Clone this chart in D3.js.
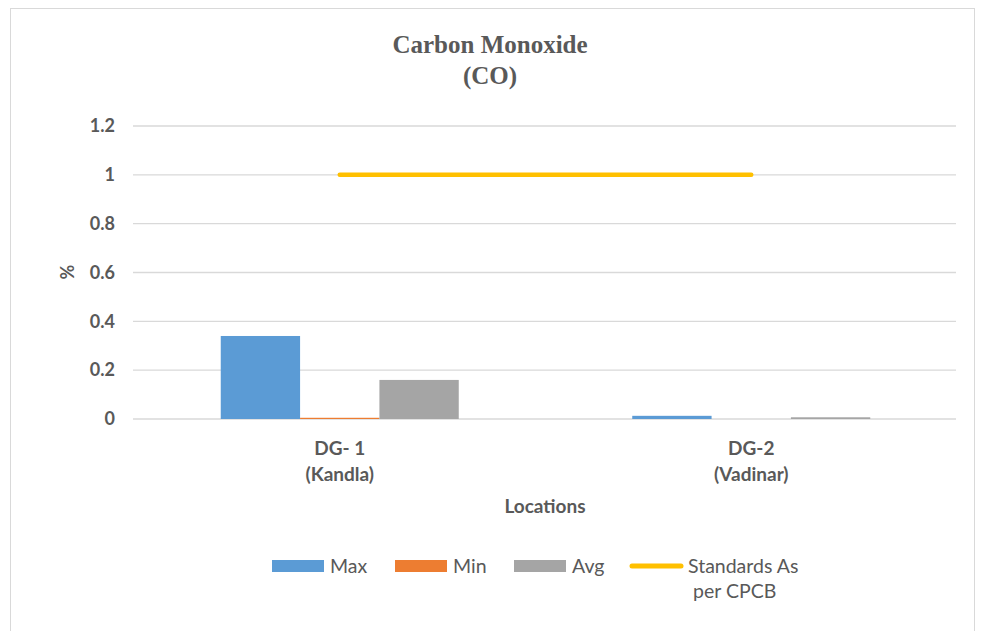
<!DOCTYPE html>
<meta charset="utf-8">
<head>
  <style>
    body { margin: 0; background: #fff; }
    text { fill: #595959; }
  </style>
  <script src="https://cdn.jsdelivr.net/npm/d3@7"></script>
</head>
<body>
<script>
  // data
  const locations = ["DG- 1|(Kandla)", "DG-2|(Vadinar)"];
  const seriesNames = ["Max", "Min", "Avg"];
  const maxVals = [0.34, 0.013];
  const minVals = [0.005, 0];
  const avgVals = [0.16, 0.007];
  const standard = [1, 1];
  const yTicks = [0, 0.2, 0.4, 0.6, 0.8, 1, 1.2];
  const colors = ["#5B9BD5", "#ED7D31", "#A5A5A5"];
  const lineColor = "#FFC000";

  const W = 991, H = 631;
  const svg = d3.create("svg:svg")
    .attr("width", W)
    .attr("height", H);
  d3.select("body").append(() => svg.node());

  // chart frame
  svg.append("rect")
    .attr("x", 10.5).attr("y", 8.5)
    .attr("width", 964).attr("height", 640)
    .attr("fill", "#fff").attr("stroke", "#d9d9d9");

  const pLeft = 134, pRight = 957, pTop = 126, pBottom = 419;
  const x = d3.scaleBand().domain(locations).range([pLeft, pRight]);
  const xs = d3.scaleBand().domain(seriesNames).range([0, 238]);
  const y = d3.scaleLinear().domain([0, 1.2]).range([pBottom, pTop]);

  // gridlines
  svg.append("g").selectAll("line").data(yTicks).join("line")
    .attr("x1", pLeft - 1).attr("x2", pRight - 1)
    .attr("y1", d => y(d)).attr("y2", d => y(d))
    .attr("stroke", "#d9d9d9").attr("stroke-width", 1.3);

  const font = "Lato, 'Open Sans', sans-serif";

  // y axis
  const yAxis = svg.append("g")
    .attr("transform", `translate(${pLeft},0)`)
    .call(d3.axisLeft(y).tickValues(yTicks).tickSize(0).tickPadding(19).tickFormat(d3.format("")));
  yAxis.select(".domain").remove();
  yAxis.selectAll("text")
    .style("font-family", font)
    .style("font-size", "18px").style("font-weight", "bold").attr("fill", "#595959");

  // bars
  const vals = [maxVals, minVals, avgVals];
  const g = svg.append("g");
  seriesNames.forEach((s, si) => {
    g.selectAll(".b" + si).data(locations).join("rect")
      .attr("class", "b" + si)
      .attr("x", d => x(d) + x.bandwidth() / 2 - 119 + xs(s))
      .attr("width", xs.bandwidth())
      .attr("y", (d, i) => y(vals[si][i]))
      .attr("height", (d, i) => y(0) - y(vals[si][i]))
      .attr("fill", colors[si]);
  });

  // standard line
  const line = d3.line()
    .x((d, i) => x(locations[i]) + x.bandwidth() / 2)
    .y(d => y(d));
  svg.append("path")
    .attr("d", line(standard))
    .attr("fill", "none")
    .attr("stroke", lineColor)
    .attr("stroke-width", 4.5)
    .attr("stroke-linecap", "round");

  // x axis labels
  const xl = svg.append("g").selectAll("text").data(locations).join("text")
    .attr("text-anchor", "middle")
    .style("font-family", font)
    .style("font-size", "19px").style("font-weight", "bold");
  xl.each(function(d) {
    const parts = d.split("|");
    const cx = x(d) + x.bandwidth() / 2;
    d3.select(this).selectAll("tspan").data(parts).join("tspan")
      .attr("x", cx)
      .attr("y", (p, i) => 455 + i * 26)
      .text(p => p);
  });

  // titles
  svg.append("text")
    .attr("x", 490).attr("y", 53)
    .attr("text-anchor", "middle")
    .style("font-family", "'Liberation Serif', 'DejaVu Serif', serif")
    .style("font-size", "25px").style("font-weight", "bold")
    .selectAll("tspan").data(["Carbon Monoxide", "(CO)"]).join("tspan")
      .attr("x", 490).attr("dy", (d, i) => i ? 31 : 0)
      .text(d => d);

  svg.append("text")
    .attr("x", 545).attr("y", 513)
    .attr("text-anchor", "middle")
    .style("font-family", font)
    .style("font-size", "19px").style("font-weight", "bold")
    .text("Locations");

  svg.append("text")
    .attr("transform", "translate(74,272) rotate(-90)")
    .attr("text-anchor", "middle")
    .style("font-family", font)
    .style("font-size", "18px").style("font-weight", "bold")
    .text("%");

  // legend
  const legX = [272, 395, 514];
  seriesNames.forEach((s, i) => {
    svg.append("rect")
      .attr("x", legX[i]).attr("y", 560)
      .attr("width", 52).attr("height", 12)
      .attr("fill", colors[i]);
    svg.append("text")
      .attr("x", legX[i] + 58).attr("y", 573)
      .style("font-family", font).style("font-size", "19.5px")
      .text(s);
  });
  svg.append("line")
    .attr("x1", 632).attr("x2", 681).attr("y1", 566).attr("y2", 566)
    .attr("stroke", lineColor).attr("stroke-width", 5).attr("stroke-linecap", "round");
  svg.append("text")
    .attr("y", 573)
    .style("font-family", font).style("font-size", "19.5px")
    .selectAll("tspan").data(["Standards As", "per CPCB"]).join("tspan")
      .attr("x", (d, i) => i ? 693 : 688)
      .attr("dy", (d, i) => i ? 25 : 0)
      .text(d => d);
</script>
</body>
</html>
